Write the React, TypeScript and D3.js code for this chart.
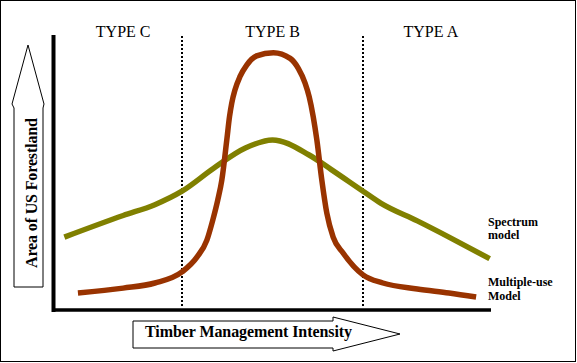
import React from 'react';
import * as d3 from 'd3';

// Timber management intensity (0-100) vs area of forestland (0-100)
const spectrumX = [4, 17, 24, 30, 37, 44, 50, 58, 63, 70, 74, 82, 89, 98];
const spectrumY = [27, 35, 39, 44, 52.5, 60, 63, 57.5, 52, 44, 39.5, 33, 27, 19];

const multiX = [7, 17, 24, 30, 33.3, 35.5, 36.8, 37.9, 38.8, 39.9, 40.5, 41.0, 41.7, 42.8, 44.3, 46.5, 50.2, 53.9, 55.7, 57.2, 58.1, 59.0, 59.8, 60.9, 62, 63.4, 65.6, 70, 74.4, 82, 89, 95];
const multiY = [6.3, 8.1, 10, 14.1, 19.6, 25.9, 33.3, 40.7, 48.1, 63, 71.6, 76.7, 81.5, 86.4, 90.7, 94.1, 95.3, 93.2, 89.5, 84.0, 79.0, 71.6, 63, 48.1, 35.9, 27, 21.1, 13, 10, 7.8, 6.3, 4.8];

const dividers = [30, 70];
const typeLabels = ['TYPE C', 'TYPE B', 'TYPE A'];
const typeCenters = [17, 50, 85];

const W = 577;
const H = 363;

const App: React.FC = () => {
  const x = d3.scaleLinear().domain([0, 100]).range([46.25, 498.75]);
  const y = d3.scaleLinear().domain([0, 100]).range([310, 40]);

  const line = d3
    .line<[number, number]>()
    .x((d) => x(d[0]))
    .y((d) => y(d[1]))
    .curve(d3.curveMonotoneX);

  const spectrum = spectrumX.map((v, i) => [v, spectrumY[i]] as [number, number]);
  const multi = multiX.map((v, i) => [v, multiY[i]] as [number, number]);

  const serif = '"Liberation Serif", "Times New Roman", serif';

  return (
    <svg
      width={W}
      height={H}
      style={{ position: 'absolute', left: 0, top: 0, background: '#fff' }}
    >
      <rect x={0.5} y={0.5} width={575} height={361} fill="#fff" stroke="#000" />

      {/* dotted type dividers */}
      {dividers.map((d) => (
        <line
          key={d}
          x1={x(d)}
          x2={x(d)}
          y1={36}
          y2={306}
          stroke="#000"
          strokeWidth={2}
          strokeDasharray="2,2"
        />
      ))}

      {typeLabels.map((t, i) => (
        <text
          key={t}
          x={x(typeCenters[i])}
          y={37}
          textAnchor="middle"
          fontFamily={serif}
          fontSize={16}
        >
          {t}
        </text>
      ))}

      {/* axes frame */}
      <line x1={53.5} x2={53.5} y1={35} y2={312} stroke="#000" strokeWidth={4} />
      <line x1={52} x2={491} y1={310} y2={310} stroke="#000" strokeWidth={3.5} />

      <path d={line(spectrum) || ''} fill="none" stroke="#808000" strokeWidth={5.5} />
      <path d={line(multi) || ''} fill="none" stroke="#993300" strokeWidth={5.5} />

      {/* legend labels */}
      <g fontFamily={serif} fontSize={12} fontWeight="bold">
        <text x={488} y={226}>Spectrum</text>
        <text x={488} y={239}>model</text>
        <text x={488} y={286}>Multiple-use</text>
        <text x={488} y={300}>Model</text>
      </g>

      {/* y label arrow */}
      <polygon
        points="28,45 44,104 43,108 43,287 14,287 14,108 12,104"
        fill="#fff"
        stroke="#000"
        strokeWidth={1}
      />
      <text
        transform="translate(37,193) rotate(-90)"
        textAnchor="middle"
        fontFamily={serif}
        fontSize={16}
        fontWeight="bold"
        textLength={150}
        lengthAdjust="spacing"
      >
        Area of US Forestland
      </text>

      {/* x label arrow */}
      <polygon
        points="133,321 333,321 333,317 400,334 333,351 333,348 133,348"
        fill="#fff"
        stroke="#000"
        strokeWidth={1}
      />
      <text
        x={145}
        y={337}
        fontFamily={serif}
        fontSize={16}
        fontWeight="bold"
        textLength={207}
        lengthAdjust="spacing"
      >
        Timber Management Intensity
      </text>
    </svg>
  );
};

export default App;
